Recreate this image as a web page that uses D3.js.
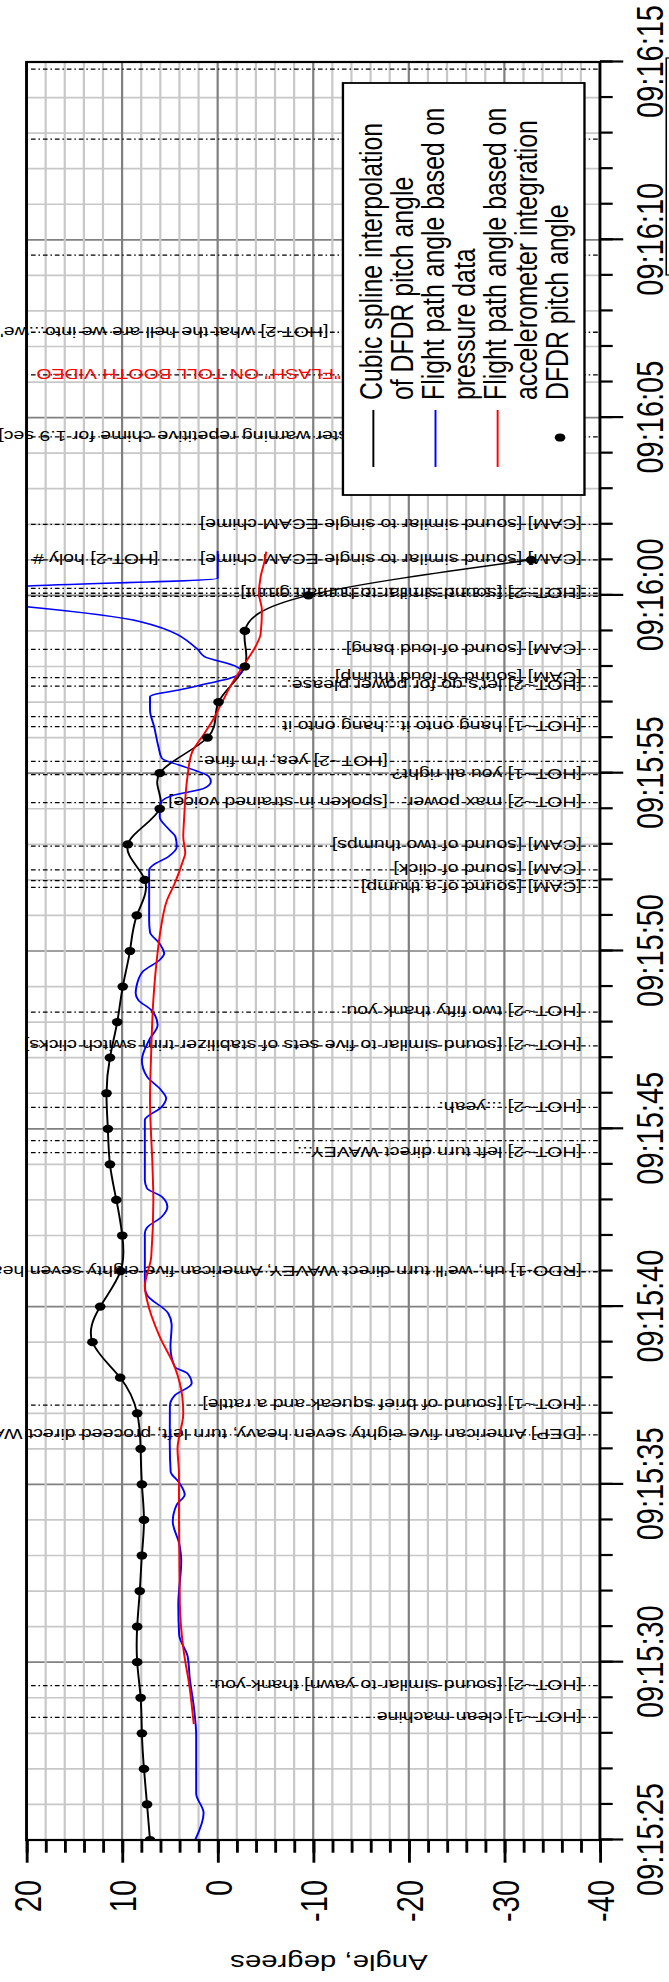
<!DOCTYPE html>
<html>
<head>
<meta charset="utf-8">
<script src="https://cdnjs.cloudflare.com/ajax/libs/d3/7.8.5/d3.min.js"></script>
<style>
  body { margin: 0; background: #fff; }
  svg { display: block; font-family: "Liberation Sans", Arial, Helvetica, sans-serif; }
</style>
</head>
<body>
<svg id="chart" width="669" height="1982"></svg>
<script>
// all times are seconds after 09:15:25
const timeTicks = ['09:15:25', '09:15:30', '09:15:35', '09:15:40', '09:15:45', '09:15:50',
  '09:15:55', '09:16:00', '09:16:05', '09:16:10', '09:16:15'];
const angleTicks = [20, 10, 0, -10, -20, -30, -40];

const pitchTimes = d3.range(0, 37);
const pitchAngles = [7.08, 7.39, 7.71, 7.93, 8.06, 8.42, 8.42, 8.15, 7.93, 7.71, 7.93, 8.06, 8.42,
  10.2, 13.1, 12.29, 10.16, 9.98, 10.6, 11.27, 11.49, 11.63, 11.27, 10.51, 9.93, 9.18, 8.46, 7.62,
  9.4, 6.06, 6.06, 1.07, -0.09, -2.85, -2.85, -9.5, -32.8];

const pressureTimes = [0, 0.76, 1.31, 2.96, 3.69, 4.55, 5.16, 5.77, 6.63, 7.85, 8.34, 8.95, 9.44,
  9.71, 10.05, 10.36, 11.15, 12.2, 12.5, 12.84, 13.12, 13.31, 13.87, 14.48, 14.81, 15.33, 15.56,
  17.06, 17.22, 17.53, 17.81, 18.09, 18.33, 18.56, 20.25, 20.62, 20.86, 21.09, 21.47, 21.93, 22.5,
  22.92, 23.34, 23.62, 23.81, 24.0, 24.42, 24.75, 24.93, 25.2, 25.53, 25.86, 27.28, 27.42, 27.65,
  27.93, 28.21, 28.44, 28.77, 29.06, 29.2, 29.39, 29.58, 29.77, 29.91, 30.07, 30.23, 30.42, 30.74,
  31.3, 31.78, 32.15, 32.24, 32.34, 32.53, 32.67, 32.86, 33.0, 33.28, 33.47, 34.26, 34.68, 34.95,
  35.26, 35.48, 36.25];
const pressureAngles = [2.36, 1.47, 2.25, 2.25, 2.47, 2.92, 3.14, 4.03, 4.12, 3.81, 4.03, 4.7, 4.26,
  3.45, 4.03, 4.92, 5.01, 5.0, 4.5, 2.72, 3.16, 4.5, 4.94, 4.81, 5.17, 7.4, 7.62,
  7.62, 7.4, 5.84, 5.26, 5.84, 7.4, 7.62, 7.62, 5.84, 5.39, 5.92, 7.4, 7.93, 7.17,
  6.28, 6.95, 8.3, 8.58, 8.5, 7.84, 6.06, 5.6, 6.06, 7.08, 7.17, 7.17, 6.73, 5.17,
  4.28, 4.41, 5.17, 6.06, 6.06, 5.9, 4.5, 1.38, 0.71, 0.94, 2.27, 4.05, 5.84, 6.19,
  6.64, 7.08, 7.08, 6.19, 4.05, 0.94, -1.29, -2.54, -1.96, 1.38, 2.05, 8.06, 20, 32,
  20, 0, 0];

const accelTimes = [3.26, 4.3, 5.4, 6.64, 9.07, 10.3, 11.0, 12.0, 12.47, 13.31, 14.15, 15.19, 15.56,
  16.4, 18.0, 18.94, 20.81, 22.2, 23.62, 24.75, 25.68, 26.43, 26.9, 27.56, 27.75, 28.21, 28.68,
  29.9, 30.56, 31.12, 31.5, 31.96, 32.53, 33.18, 33.56, 33.93, 34.59, 35.06, 35.53, 36.0, 36.23];
const accelAngles = [2.5, 2.94, 3.6, 3.96, 4.05, 4.05, 4.2, 3.6, 3.7, 4.5, 6.06, 7.4, 7.62,
  6.95, 6.73, 6.82, 7.08, 6.95, 6.73, 6.37, 5.92, 5.3, 4.5, 3.6, 3.39, 3.6, 3.52,
  3.16, 2.72, 1.38, 0.49, -0.4, -1.51, -3.07, -3.96, -4.5, -4.63, -4.32, -4.5, -4.94, -5.08];

const annotationTimes = [3.45, 4.34, 11.39, 12.23, 15.98, 19.33, 19.67, 20.6, 22.33, 23.28,
  26.79, 26.98, 27.28, 27.95, 29.17, 29.17, 29.96, 30.33, 31.31, 31.59, 32.45, 32.69, 33.48,
  34.97, 35.06, 35.2, 36.0, 36.0, 37.0, 39.46, 41.2, 42.4, 44.57, 47.83, 49.8];
const annotationTexts = [
  '[HOT~1] clean machine',
  '[HOT~2] [sound similar to yawn] thank you.',
  '[DEP] American five eighty seven heavy, turn left, proceed direct WAVEY.',
  '[HOT~1] [sound of brief squeak and a rattle]',
  '[RDO-1] uh, we\'ll turn direct WAVEY, American five eighty seven heavy.',
  '[HOT~2] left turn direct WAVEY...',
  '',
  '[HOT~2] ...yeah.',
  '[HOT~2] [sound similar to five sets of stabilizer trim switch clicks]',
  '[HOT~2] two fifty thank you.',
  '[CAM] [sound of a thump]',
  '',
  '[CAM] [sound of click]',
  '[CAM] [sound of two thumps]',
  '[HOT~2] max power.',
  '[spoken in strained voice]',
  '[HOT~1] you all right?',
  '[HOT~2] yea, I\'m fine.',
  '[HOT~1] hang onto it...hang onto it',
  '',
  '[HOT~2] let\'s go for power please.',
  '[CAM] [sound of loud thump]',
  '[CAM] [sound of loud bang]',
  '',
  '[HOT~2] [sound similar to human grunt]',
  '',
  '[CAM] [sound similar to single ECAM chime]',
  '[HOT-2] holy #',
  '[CAM] [sound similar to single ECAM chime]',
  '[CAM] [sound similar to master warning repetitive chime for 1.9 sec]',
  '"FLASH" ON TOLL BOOTH VIDEO',
  '[HOT-2] what the hell are we into...we\'re stuck in it.',
  '', '', ''
];

const legendLabels = ['Cubic spline interpolation', 'of DFDR pitch angle',
  'Flight path angle based on', 'pressure data',
  'Flight path angle based on', 'accelerometer integration', 'DFDR pitch angle'];

// where a label begins, in degrees; default is near the -40 edge
const labelStart = {
  '[spoken in strained voice]': -17.8,
  '[HOT~2] yea, I\'m fine.': -17.8,
  '[HOT-2] holy #': 6.2,
  '"FLASH" ON TOLL BOOTH VIDEO': -12.9,
  '[HOT-2] what the hell are we into...we\'re stuck in it.': -11.6
};
const redLabels = ['"FLASH" ON TOLL BOOTH VIDEO'];

const W = 1982;
const S = 1.3;           // the picture is stretched across the angle axis

const parseTime = d3.timeParse('%H:%M:%S');
const t0 = parseTime(timeTicks[0]);
const at = (s) => new Date(+t0 + s * 1000);

const x = d3.scaleTime()
  .domain([t0, parseTime(timeTicks[timeTicks.length - 1])])
  .range([142, 1920]);
const y = d3.scaleLinear()
  .domain([20, -40])
  .range([20.4, 461.5]);

const svg = d3.select('#chart');
const root = svg.append('g')
  .attr('transform', `matrix(0,-1,${S},0,0,${W})`);

root.append('clipPath')
  .attr('id', 'plot-clip')
  .append('rect')
    .attr('x', x.range()[0])
    .attr('y', y.range()[0])
    .attr('width', x.range()[1] - x.range()[0])
    .attr('height', y.range()[1] - y.range()[0]);

// grid
const grid = root.append('g').attr('class', 'grid');
const secondTicks = x.ticks(d3.timeSecond.every(1));
const degreeTicks = d3.range(20, -41, -2);

grid.selectAll('.vgrid')
  .data(secondTicks)
  .enter().append('line')
    .attr('x1', (d) => x(d)).attr('x2', (d) => x(d))
    .attr('y1', y(20)).attr('y2', y(-40))
    .attr('stroke', (d) => d.getSeconds() % 5 === 0 ? '#808080' : '#c8c8c8')
    .attr('stroke-width', 1.7);

grid.selectAll('.hgrid')
  .data(degreeTicks)
  .enter().append('line')
    .attr('x1', x.range()[0]).attr('x2', x.range()[1])
    .attr('y1', (d) => y(d)).attr('y2', (d) => y(d))
    .attr('stroke', (d) => d % 10 === 0 ? '#808080' : '#c8c8c8')
    .attr('stroke-width', 1.7);

// annotation lines and texts
const lineTimes = Array.from(new Set(annotationTimes));

root.append('g').selectAll('line')
  .data(lineTimes)
  .enter().append('line')
    .attr('x1', (d) => x(at(d))).attr('x2', (d) => x(at(d)))
    .attr('y1', y(20)).attr('y2', y(-40))
    .attr('stroke', '#000')
    .attr('stroke-width', 1.3)
    .attr('stroke-dasharray', '1.2,2.2,3.6,2.2');

const notes = annotationTimes
  .map((t, i) => ({t: t, text: annotationTexts[i]}))
  .filter((d) => d.text !== '');

root.append('g').selectAll('text')
  .data(notes)
  .enter().append('text')
    .attr('transform', (d) => {
      const a = labelStart[d.text] !== undefined ? labelStart[d.text] : -38.1;
      return `translate(${x(at(d.t))},${y(a)}) rotate(-90)`;
    })
    .attr('dy', '0.38em')
    .attr('font-size', 15)
    .attr('fill', (d) => redLabels.includes(d.text) ? '#ff0000' : '#000')
    .text((d) => d.text);

// data
const plot = root.append('g').attr('clip-path', 'url(#plot-clip)');

const pitch = pitchTimes.map((t, i) => [t, pitchAngles[i]]);
const pressure = pressureTimes.map((t, i) => [t, pressureAngles[i]]);
const accel = accelTimes.map((t, i) => [t, accelAngles[i]]);

const spline = d3.line()
  .x((d) => x(at(d[0])))
  .y((d) => y(d[1]))
  .curve(d3.curveNatural);
const smooth = d3.line()
  .x((d) => x(at(d[0])))
  .y((d) => y(d[1]))
  .curve(d3.curveMonotoneX);

plot.append('path').datum(pitch)
  .attr('d', spline).attr('fill', 'none')
  .attr('stroke', '#000').attr('stroke-width', 1.5);
plot.append('path').datum(pressure)
  .attr('d', smooth).attr('fill', 'none')
  .attr('stroke', '#0000ff').attr('stroke-width', 1.5);
plot.append('path').datum(accel)
  .attr('d', smooth).attr('fill', 'none')
  .attr('stroke', '#ff0000').attr('stroke-width', 1.5);

plot.selectAll('.dot')
  .data(pitch)
  .enter().append('circle')
    .attr('cx', (d) => x(at(d[0])))
    .attr('cy', (d) => y(d[1]))
    .attr('r', 4.1)
    .attr('fill', '#000');

// legend
const legend = root.append('g').attr('class', 'legend');
legend.append('rect')
  .attr('x', 1487).attr('y', 263.8)
  .attr('width', 412).attr('height', 185.8)
  .attr('fill', '#fff').attr('stroke', '#000').attr('stroke-width', 1.8);

legend.selectAll('text')
  .data(legendLabels)
  .enter().append('text')
    .attr('x', 1582)
    .attr('y', (d, i) => 293.8 + i * 23.9)
    .attr('font-size', 24.8)
    .text((d) => d);

const legendLines = [['#000', 0], ['#0000ff', 2], ['#ff0000', 4]];
legend.selectAll('.key')
  .data(legendLines)
  .enter().append('line')
    .attr('x1', 1515).attr('x2', 1572)
    .attr('y1', (d) => 293.8 + d[1] * 23.9 - 6.6)
    .attr('y2', (d) => 293.8 + d[1] * 23.9 - 6.6)
    .attr('stroke', (d) => d[0])
    .attr('stroke-width', 1.5);
legend.append('circle')
  .attr('cx', 1544.5).attr('cy', 293.8 + 6 * 23.9 - 6.4)
  .attr('r', 4.1).attr('fill', '#000');

// axes
const timeAxis = root.append('g')
  .attr('transform', `translate(0,${y(-40)})`)
  .call(d3.axisBottom(x)
    .tickValues(timeTicks.map(parseTime))
    .tickFormat(d3.timeFormat('%H:%M:%S'))
    .tickSize(17.9)
    .tickPadding(10));
root.append('g')
  .attr('transform', `translate(0,${y(-40)})`)
  .call(d3.axisBottom(x).tickValues(secondTicks).tickFormat('').tickSize(9.8));

const angleAxis = root.append('g')
  .attr('transform', `translate(${x.range()[0]},0)`)
  .call(d3.axisLeft(y)
    .tickValues(angleTicks)
    .tickFormat((d) => String(d))
    .tickSize(22.7)
    .tickPadding(17.3));
root.append('g')
  .attr('transform', `translate(${x.range()[0]},0)`)
  .call(d3.axisLeft(y).tickValues(degreeTicks).tickFormat('').tickSize(12.7));

root.selectAll('.domain').remove();
root.selectAll('.tick line').attr('stroke', '#000').attr('stroke-width', 2.2);
timeAxis.selectAll('text').attr('font-size', 29).attr('fill', '#000');
angleAxis.selectAll('text').attr('font-size', 29).attr('fill', '#000')
  .attr('dy', '0.36em');

root.append('rect')
  .attr('x', x.range()[0]).attr('y', y.range()[0])
  .attr('width', x.range()[1] - x.range()[0])
  .attr('height', y.range()[1] - y.range()[0])
  .attr('fill', 'none').attr('stroke', '#000').attr('stroke-width', 2.2);

root.append('text')
  .attr('transform', 'translate(27,253) rotate(-90)')
  .attr('text-anchor', 'middle')
  .attr('font-size', 22.6)
  .text('Angle, degrees');

// edge of a box beyond the time labels
root.append('rect')
  .attr('x', 1707).attr('y', 512.5)
  .attr('width', 217).attr('height', 30)
  .attr('fill', 'none').attr('stroke', '#000').attr('stroke-width', 1.2);
</script>
</body>
</html>
